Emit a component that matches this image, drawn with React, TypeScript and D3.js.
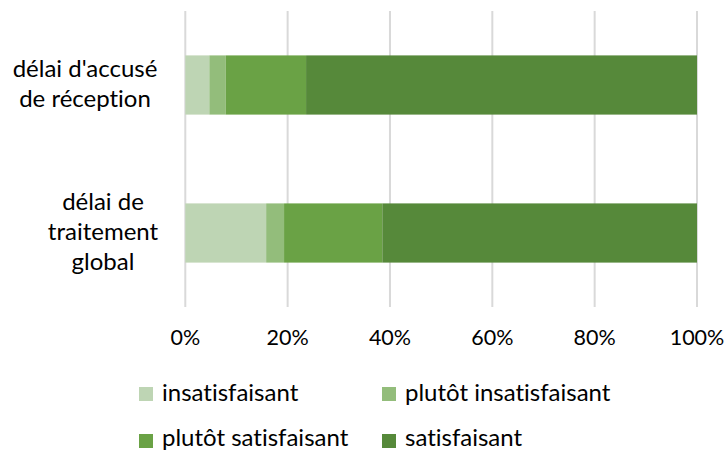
import React from "react";
import * as d3 from "d3";

const categories = [["délai d'accusé", "de réception"], ["délai de", "traitement", "global"]];
const categoryKeys = ["accuse", "traitement"];
const seriesNames = ["insatisfaisant", "plutôt insatisfaisant", "plutôt satisfaisant", "satisfaisant"];
const seriesColors = ["#bed5b4", "#93bd7b", "#6aa245", "#56893a"];
const insatisfaisant = [4.7, 15.8];
const plutotInsatisfaisant = [3.2, 3.5];
const plutotSatisfaisant = [15.7, 19.2];
const satisfaisant = [76.4, 61.5];
const tickValues = [0, 20, 40, 60, 80, 100];

const W = 726;
const H = 452;
const FONT = "Lato, 'Open Sans', sans-serif";

export default function App() {
  const x = d3.scaleLinear().domain([0, 100]).range([185.3, 697]);
  const y = d3.scaleBand<string>().domain(categoryKeys).range([11, 307]).paddingInner(0.6).paddingOuter(0.3);

  const rows = categoryKeys.map((k, i) => ({
    key: k,
    v0: insatisfaisant[i],
    v1: plutotInsatisfaisant[i],
    v2: plutotSatisfaisant[i],
    v3: satisfaisant[i],
  }));
  const stack = d3.stack<any>().keys(["v0", "v1", "v2", "v3"]);
  const layers = stack(rows);

  const lineH = 30;
  const fs = 24;
  const tickFs = 21.5;

  return (
    <svg
      width={W}
      height={H}
      style={{ position: "absolute", left: 0, top: 0, background: "#fff", fontVariantLigatures: "none" }}
      fontFamily={FONT}
    >
      {tickValues.map((t) => (
        <line key={t} x1={x(t)} x2={x(t)} y1={11} y2={307} stroke="#d9d9d9" strokeWidth={2} />
      ))}
      {layers.map((layer, li) => (
        <g key={li} fill={seriesColors[li]}>
          {layer.map((d, di) => (
            <rect
              key={di}
              x={x(d[0])}
              y={y(categoryKeys[di])}
              width={x(d[1]) - x(d[0])}
              height={y.bandwidth()}
            />
          ))}
        </g>
      ))}
      {tickValues.map((t) => (
        <text key={t} x={x(t)} y={345} textAnchor="middle" fontSize={tickFs} fill="#000">
          {t}%
        </text>
      ))}
      {categories.map((lines, i) => {
        const cy = (y(categoryKeys[i]) as number) + y.bandwidth() / 2;
        const n = lines.length;
        return (
          <text key={i} fontSize={fs} fill="#000" textAnchor="middle">
            {lines.map((l, j) => (
              <tspan key={j} x={i === 0 ? 85 : 103} y={cy + (j - (n - 1) / 2) * lineH + 7}>
                {l}
              </tspan>
            ))}
          </text>
        );
      })}
      {seriesNames.map((name, i) => {
        const col = i % 2;
        const row = Math.floor(i / 2);
        const lx = col === 0 ? 139 : 382;
        const ly = 387 + row * 47;
        return (
          <g key={name}>
            <rect x={lx} y={ly} width={14} height={14} fill={seriesColors[i]} />
            <text x={lx + 23} y={row === 0 ? ly + 14 : ly + 12} fontSize={fs} fill="#000">
              {name}
            </text>
          </g>
        );
      })}
    </svg>
  );
}
